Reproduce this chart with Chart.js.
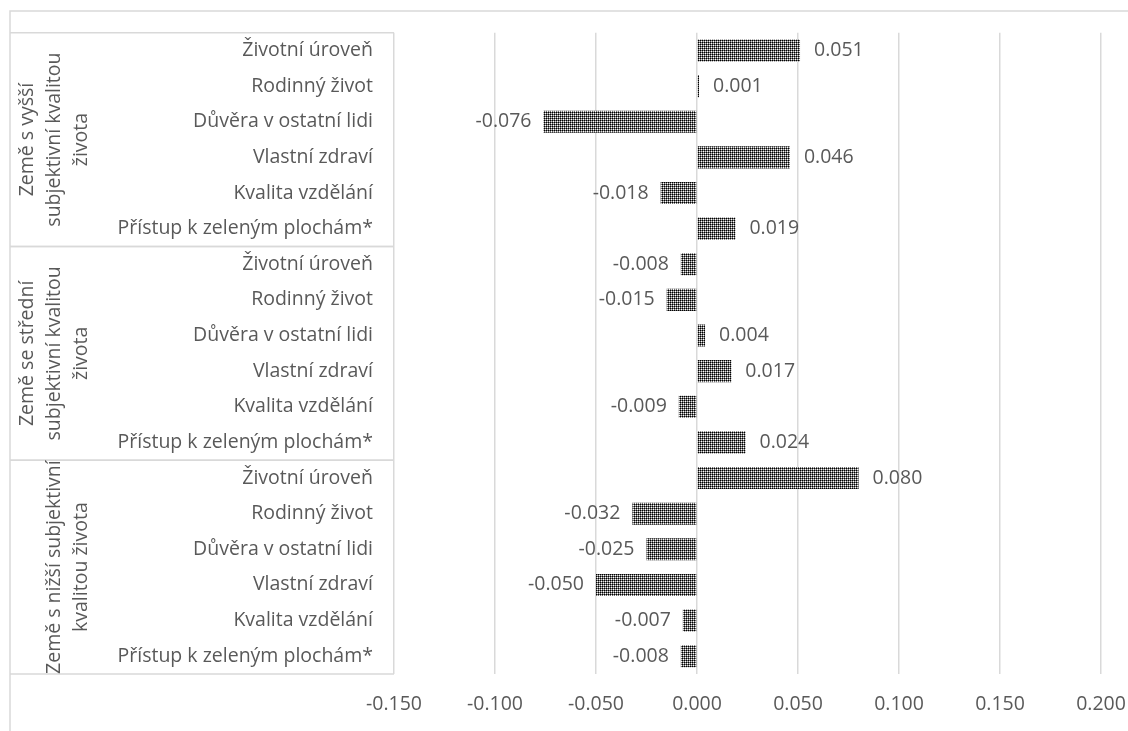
<!DOCTYPE html>
<html>
<head>
<meta charset="utf-8">
<script src="https://cdn.jsdelivr.net/npm/chart.js@4.4.1/dist/chart.umd.min.js"></script>
<style>
body{margin:0;background:#fff;}
#wrap{width:1128px;height:731px;position:relative;}
</style>
</head>
<body>
<div id="wrap"><canvas id="barChart"></canvas></div>
<script>
// data
var categories = ["Životní úroveň","Rodinný život","Důvěra v ostatní lidi","Vlastní zdraví","Kvalita vzdělání","Přístup k zeleným plochám*"];
var groupLines = [
	["Země s vyšší","subjektivní kvalitou","života"],
	["Země se střední","subjektivní kvalitou","života"],
	["Země s nižší subjektivní","kvalitou života"]
];
var highValues = [0.051, 0.001, -0.076, 0.046, -0.018, 0.019];
var midValues = [-0.008, -0.015, 0.004, 0.017, -0.009, 0.024];
var lowValues = [0.080, -0.032, -0.025, -0.050, -0.007, -0.008];
var xTicks = [-0.150, -0.100, -0.050, 0.000, 0.050, 0.100, 0.150, 0.200];

var labels = categories.concat(categories, categories);
var values = highValues.concat(midValues, lowValues);

var fnt = "Open Sans";
var fsize = 19.5;
var txtCol = "#595959";
var lineCol = "#d9d9d9";

// dotted fill like the excel pattern
function makePattern(){
	var c = document.createElement('canvas');
	c.width = 4; c.height = 4;
	var x = c.getContext('2d');
	var px = [
		["#000","#707070","#000","#707070"],
		["#707070","#fff","#707070","#e0e0e0"],
		["#000","#707070","#000","#707070"],
		["#707070","#e0e0e0","#707070","#fff"]
	];
	for(var i=0;i<4;i++){
		for(var j=0;j<4;j++){
			x.fillStyle = px[i][j];
			x.fillRect(j,i,1,1);
		}
	}
	return x.createPattern(c,'repeat');
}

var boxPlugin = {
	id:'boxes',
	afterDraw:function(chart){
		var ctx = chart.ctx;
		var ys = chart.scales.y;
		var area = chart.chartArea;
		var step = ys.getPixelForValue(1) - ys.getPixelForValue(0);
		ctx.save();
		// outer border
		ctx.strokeStyle = lineCol;
		ctx.lineWidth = 1.5;
		ctx.beginPath();
		ctx.moveTo(10, 731);
		ctx.lineTo(10, 11);
		ctx.lineTo(1128, 11);
		ctx.stroke();
		// group boxes
		for(var g=0; g<3; g++){
			var top = ys.getPixelForValue(g*6) - step/2;
			var bot = ys.getPixelForValue(g*6+5) + step/2;
			ctx.strokeStyle = lineCol;
			ctx.beginPath();
			ctx.moveTo(10, top);
			ctx.lineTo(area.left, top);
			ctx.moveTo(10, bot);
			ctx.lineTo(area.left, bot);
			ctx.stroke();
			var mid = (top+bot)/2;
			var lines = groupLines[g];
			ctx.fillStyle = txtCol;
			ctx.font = fsize + "px " + fnt;
			ctx.textAlign = 'center';
			ctx.textBaseline = 'middle';
			for(var k=0; k<lines.length; k++){
				var lx = 81 - (lines.length-1-k)*27;
				ctx.save();
				ctx.translate(lx, mid);
				ctx.rotate(-Math.PI/2);
				ctx.fillText(lines[k], 0, 0);
				ctx.restore();
			}
		}
		// data labels
		var meta = chart.getDatasetMeta(0);
		var xs = chart.scales.x;
		ctx.font = fsize + "px " + fnt;
		ctx.fillStyle = txtCol;
		ctx.textBaseline = 'middle';
		meta.data.forEach(function(bar, i){
			var v = values[i];
			var end = xs.getPixelForValue(v);
			if(v >= 0){
				ctx.textAlign = 'left';
				ctx.fillText(v.toFixed(3), end + 14, bar.y);
			}else{
				ctx.textAlign = 'right';
				ctx.fillText(v.toFixed(3), end - 12, bar.y);
			}
		});
		ctx.restore();
	}
};

var ctxB = document.getElementById("barChart").getContext('2d');
var myBarChart = new Chart(ctxB, {
	type:'bar',
	data:{
		labels: labels,
		datasets:[{
			data: values,
			backgroundColor: makePattern(),
			borderWidth: 0,
			barPercentage: 0.62,
			categoryPercentage: 1
		}]
	},
	options:{
		indexAxis:'y',
		responsive:true,
		maintainAspectRatio:false,
		animation:false,
		layout:{padding:{top:29, right:27, left:0, bottom:0}},
		plugins:{legend:{display:false}, tooltip:{enabled:false}},
		scales:{
			x:{
				min:-0.15, max:0.2,
				afterBuildTicks:function(s){
					s.ticks = xTicks.map(function(t){ return {value:t}; });
				},
				afterFit:function(s){ s.height = 57; s.paddingRight = 0; s.paddingLeft = 0; },
				grid:{color:lineCol, lineWidth:1.5, drawTicks:false},
				border:{display:false},
				ticks:{
					color:txtCol,
					font:{family:fnt, size:fsize},
					padding:19,
					callback:function(v){ return Number(v).toFixed(3); }
				}
			},
			y:{
				afterFit:function(s){ s.width = 394; },
				grid:{display:false, drawTicks:false},
				border:{display:false},
				ticks:{
					color:txtCol,
					font:{family:fnt, size:fsize},
					padding:21,
					autoSkip:false
				}
			}
		}
	},
	plugins:[boxPlugin]
});
</script>
</body>
</html>
